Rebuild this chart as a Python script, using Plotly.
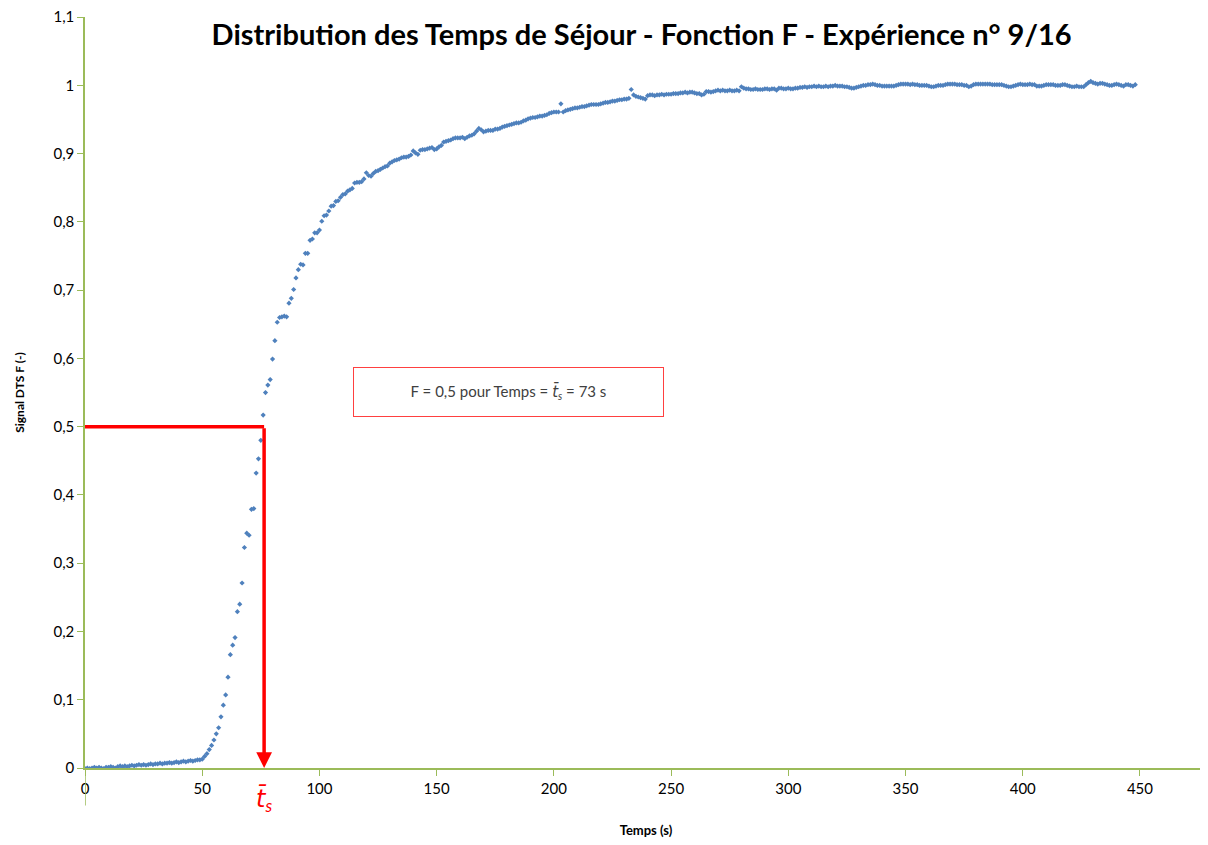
import plotly.graph_objects as go

# Signal F, one sample per second from t = 0 s to t = 448 s
signal_f = [
    -0.001, 0.000, -0.001, 0.000, 0.001, 0.000, 0.001, 0.000, -0.001, 0.001,
    0.001, 0.002, 0.001, 0.000, 0.002, 0.003, 0.002, 0.003, 0.002, 0.003,
    0.004, 0.003, 0.004, 0.005, 0.004, 0.005, 0.004, 0.005, 0.006, 0.005,
    0.006, 0.006, 0.007, 0.006, 0.007, 0.007, 0.008, 0.007, 0.008, 0.009,
    0.008, 0.009, 0.010, 0.009, 0.010, 0.011, 0.010, 0.011, 0.012, 0.012,
    0.013, 0.017, 0.021, 0.027, 0.033, 0.041, 0.050, 0.059, 0.075, 0.092,
    0.107, 0.133, 0.166, 0.180, 0.191, 0.229, 0.240, 0.271, 0.323, 0.344,
    0.341, 0.379, 0.380, 0.432, 0.453, 0.480, 0.517, 0.550, 0.561, 0.569,
    0.599, 0.626, 0.653, 0.660, 0.661, 0.662, 0.661, 0.681, 0.688, 0.701,
    0.718, 0.730, 0.738, 0.737, 0.754, 0.754, 0.773, 0.775, 0.784, 0.784,
    0.788, 0.801, 0.809, 0.810, 0.816, 0.823, 0.824, 0.830, 0.831, 0.836,
    0.840, 0.841, 0.845, 0.847, 0.849, 0.857, 0.858, 0.858, 0.859, 0.863,
    0.872, 0.868, 0.867, 0.871, 0.874, 0.875, 0.877, 0.879, 0.881, 0.882,
    0.886, 0.888, 0.890, 0.891, 0.892, 0.894, 0.895, 0.895, 0.896, 0.898,
    0.904, 0.901, 0.899, 0.905, 0.906, 0.906, 0.907, 0.908, 0.909, 0.906,
    0.907, 0.910, 0.912, 0.917, 0.918, 0.919, 0.920, 0.922, 0.923, 0.923,
    0.923, 0.924, 0.922, 0.924, 0.926, 0.927, 0.929, 0.933, 0.937, 0.935,
    0.932, 0.933, 0.934, 0.934, 0.934, 0.936, 0.936, 0.937, 0.939, 0.940,
    0.941, 0.942, 0.943, 0.944, 0.945, 0.945, 0.946, 0.948, 0.949, 0.951,
    0.952, 0.953, 0.953, 0.954, 0.955, 0.955, 0.956, 0.957, 0.959, 0.960,
    0.961, 0.961, 0.961, 0.973, 0.961, 0.963, 0.964, 0.965, 0.966, 0.967,
    0.967, 0.968, 0.969, 0.969, 0.970, 0.971, 0.972, 0.972, 0.972, 0.972,
    0.973, 0.974, 0.975, 0.975, 0.976, 0.977, 0.977, 0.978, 0.979, 0.979,
    0.980, 0.980, 0.981, 0.994, 0.986, 0.984, 0.983, 0.982, 0.981, 0.980,
    0.985, 0.986, 0.986, 0.985, 0.986, 0.986, 0.987, 0.986, 0.987, 0.987,
    0.987, 0.988, 0.988, 0.988, 0.989, 0.989, 0.990, 0.989, 0.990, 0.990,
    0.989, 0.988, 0.988, 0.986, 0.987, 0.991, 0.991, 0.990, 0.991, 0.992,
    0.993, 0.992, 0.993, 0.992, 0.992, 0.993, 0.992, 0.992, 0.993, 0.992,
    0.998, 0.996, 0.995, 0.995, 0.994, 0.994, 0.995, 0.994, 0.994, 0.994,
    0.995, 0.995, 0.994, 0.995, 0.995, 0.993, 0.996, 0.996, 0.995, 0.995,
    0.996, 0.995, 0.995, 0.996, 0.996, 0.997, 0.997, 0.998, 0.997, 0.998,
    0.998, 0.999, 0.998, 0.999, 0.998, 0.998, 0.999, 0.998, 0.999, 0.999,
    1.000, 0.999, 0.999, 0.999, 0.998, 0.998, 0.997, 0.996, 0.996, 0.997,
    0.998, 0.999, 1.000, 1.000, 1.001, 1.001, 1.002, 1.001, 1.000, 1.000,
    0.999, 0.999, 0.999, 0.999, 0.999, 0.999, 1.000, 1.001, 1.002, 1.002,
    1.002, 1.002, 1.001, 1.002, 1.001, 1.001, 1.000, 1.000, 1.000, 1.000,
    0.999, 0.998, 0.998, 0.999, 1.000, 1.000, 1.000, 1.001, 1.002, 1.002,
    1.002, 1.002, 1.001, 1.001, 1.001, 1.000, 1.000, 0.998, 0.999, 1.001,
    1.002, 1.002, 1.002, 1.002, 1.002, 1.002, 1.002, 1.001, 1.001, 1.001,
    1.001, 1.001, 1.000, 0.999, 0.998, 0.998, 0.999, 1.000, 1.001, 1.002,
    1.001, 1.001, 1.001, 1.002, 1.001, 1.001, 0.999, 0.999, 0.999, 1.000,
    1.001, 1.001, 1.001, 1.001, 1.000, 1.000, 1.000, 1.001, 1.001, 1.000,
    0.999, 0.998, 0.998, 0.999, 0.998, 0.998, 0.998, 1.001, 1.004, 1.006,
    1.004, 1.003, 1.002, 1.003, 1.003, 1.002, 1.001, 1.000, 1.000, 1.001,
    1.002, 1.001, 1.000, 0.999, 1.001, 1.001, 1.000, 0.999, 1.001,
]
# sampling step of the acquisition: 1 s
temps_s = list(range(len(signal_f)))

x_ticks = [0, 50, 100, 150, 200, 250, 300, 350, 400, 450]
y_ticks = [0, 0.1, 0.2, 0.3, 0.4, 0.5, 0.6, 0.7, 0.8, 0.9, 1.0, 1.1]
y_tick_text = ["0", "0,1", "0,2", "0,3", "0,4", "0,5", "0,6", "0,7", "0,8", "0,9", "1", "1,1"]

f_half = 0.5
t_s_mark = 76.4   # where the red arrow drops onto the time axis
t_s_label = 73

font = "Lato, 'Open Sans', sans-serif"
axis_green = "#9BBB59"
point_blue = "#4F81BD"
red = "#FF0000"
t_bar = "<span style='font-family:DejaVu Sans'><i>t\u0304</i></span><i><sub>s</sub></i>"

fig = go.Figure()
fig.add_trace(go.Scatter(
    x=temps_s, y=signal_f, mode="markers",
    marker=dict(symbol="diamond", size=4, color=point_blue),
    showlegend=False, hoverinfo="x+y",
))
fig.add_trace(go.Scatter(
    x=[0, t_s_mark], y=[f_half, f_half], mode="lines",
    line=dict(color=red, width=3.5), showlegend=False, hoverinfo="skip",
))

# the vertical axis line carries on a little below the time axis
fig.add_shape(type="line", xref="x", yref="paper", x0=0, x1=0, y0=0, y1=-0.05,
              line=dict(color=axis_green, width=1.5))

fig.add_annotation(
    x=t_s_mark, y=0, ax=t_s_mark, ay=f_half, xref="x", yref="y",
    axref="x", ayref="y", text="", showarrow=True,
    arrowhead=2, arrowsize=0.9, arrowwidth=3.5, arrowcolor=red,
)
fig.add_annotation(
    x=t_s_mark, y=-0.043, xref="x", yref="paper", yanchor="middle",
    showarrow=False, text=t_bar,
    font=dict(family=font, size=24, color=red),
)
fig.add_annotation(
    x=180.7, y=0.5505, xref="x", yref="y", showarrow=False,
    text="F = 0,5 pour Temps = " + t_bar + " = %d s" % t_s_label,
    font=dict(family=font, size=15, color="#404040"),
    width=309, height=48, bordercolor="#FF4040", borderwidth=1,
    bgcolor="white", borderpad=0,
)

# the page body adds an 8 px margin, so the figure is drawn 8 px smaller
fig.update_layout(
    width=1200, height=837,
    margin=dict(l=77, r=1, t=9, b=77),
    paper_bgcolor="white", plot_bgcolor="white",
    separators=", ",
    font=dict(family=font, size=13, color="#000000"),
    title=dict(
        text="<b>Distribution des Temps de Séjour - Fonction F - Expérience n° 9/16</b>",
        x=0.528, xanchor="center", y=0.968, yanchor="middle",
        font=dict(family=font, size=29, color="#000000"),
    ),
    xaxis=dict(
        range=[0, 478.6], tickvals=x_ticks, showgrid=False, zeroline=False,
        showline=True, linecolor=axis_green, linewidth=1.5,
        ticks="outside", ticklen=6, tickcolor=axis_green,
        tickfont=dict(size=15), automargin=False, ticklabeloverflow="allow",
        title=dict(text="<b>Temps (s)</b>", font=dict(size=13), standoff=30),
    ),
    yaxis=dict(
        range=[0, 1.1002], tickvals=y_ticks, ticktext=y_tick_text,
        showgrid=False, zeroline=False,
        showline=True, linecolor=axis_green, linewidth=1.5,
        ticks="outside", ticklen=6, tickcolor=axis_green,
        tickfont=dict(size=15), automargin=False, ticklabeloverflow="allow",
        title=dict(text="<b>Signal DTS F (-)</b>", font=dict(size=12), standoff=26),
    ),
)

fig.write_html("out.html")
